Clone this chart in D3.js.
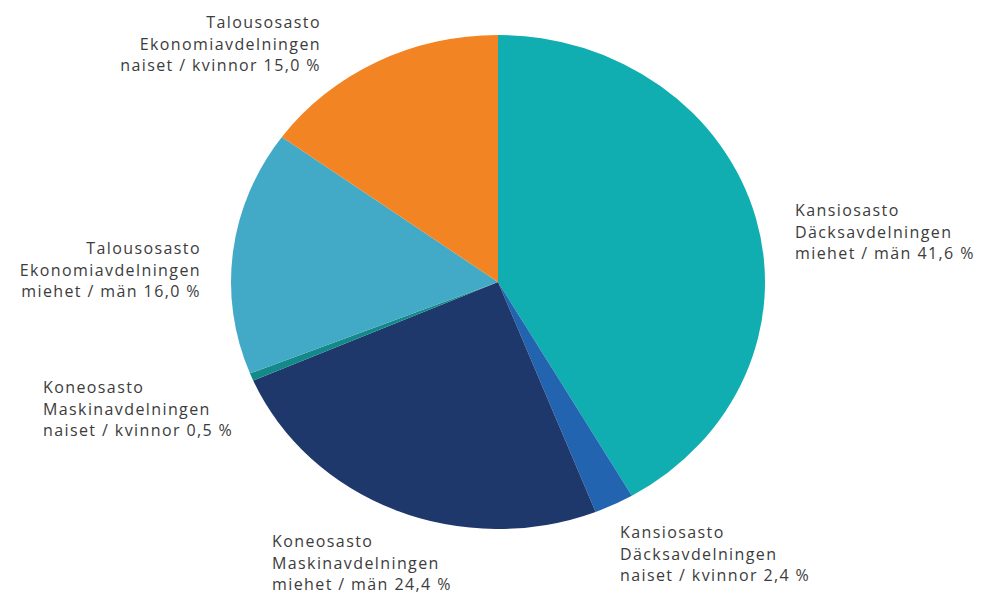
<!DOCTYPE html>
<html>
<head>
<meta charset="utf-8">
<script src="https://cdn.jsdelivr.net/npm/d3@7"></script>
<style>
  body { margin: 0; background: #fff; }
  text { font-family: "Open Sans", sans-serif; font-size: 16px; letter-spacing: 1.4px; fill: #3c3c3c; }
</style>
</head>
<body>
<div id="chart"></div>
<script>
// Data
var names = ["Kansiosasto miehet", "Kansiosasto naiset", "Koneosasto miehet",
             "Koneosasto naiset", "Talousosasto miehet", "Talousosasto naiset"];
var values = [41.6, 2.4, 24.4, 0.5, 16.0, 15.0];
var colors = ["#10aeb0", "#2264b0", "#1f386c", "#14898a", "#42aac6", "#f28423"];
var labels = [
  ["Kansiosasto", "Däcksavdelningen", "miehet / män 41,6 %"],
  ["Kansiosasto", "Däcksavdelningen", "naiset / kvinnor 2,4 %"],
  ["Koneosasto", "Maskinavdelningen", "miehet / män 24,4 %"],
  ["Koneosasto", "Maskinavdelningen", "naiset / kvinnor 0,5 %"],
  ["Talousosasto", "Ekonomiavdelningen", "miehet / män 16,0 %"],
  ["Talousosasto", "Ekonomiavdelningen", "naiset / kvinnor 15,0 %"]
];

// layout
var w = 983, h = 595;
var cx = 498, cy = 282, rx = 267, ry = 247;
var lineH = 21.5;
// label anchor: x, first baseline y, text-anchor
var labelPos = [
  [795, 216, "start"],
  [620, 538, "start"],
  [272, 547, "start"],
  [43, 393, "start"],
  [201, 254, "end"],
  [321, 28, "end"]
];

var svg = d3.select("#chart").append("svg")
    .attr("width", w)
    .attr("height", h);

var pie = d3.pie().sort(null).value(function(d) { return d; });
var arc = d3.arc().innerRadius(0).outerRadius(ry);

// pie drawn as circle then stretched horizontally
svg.append("g")
    .attr("transform", "translate(" + cx + "," + cy + ") scale(" + (rx / ry) + ",1)")
    .selectAll("path")
    .data(pie(values))
    .enter()
    .append("path")
    .attr("d", arc)
    .attr("fill", function(d, i) { return colors[i]; });

var lab = svg.selectAll("text.lab")
    .data(labels)
    .enter()
    .append("text")
    .attr("class", "lab")
    .attr("text-anchor", function(d, i) { return labelPos[i][2]; });

lab.selectAll("tspan")
    .data(function(d, i) { return d.map(function(t) { return {t: t, i: i}; }); })
    .enter()
    .append("tspan")
    .attr("x", function(d) { return labelPos[d.i][0]; })
    .attr("y", function(d, j) { return labelPos[d.i][1] + j * lineH; })
    .text(function(d) { return d.t; });
</script>
</body>
</html>
